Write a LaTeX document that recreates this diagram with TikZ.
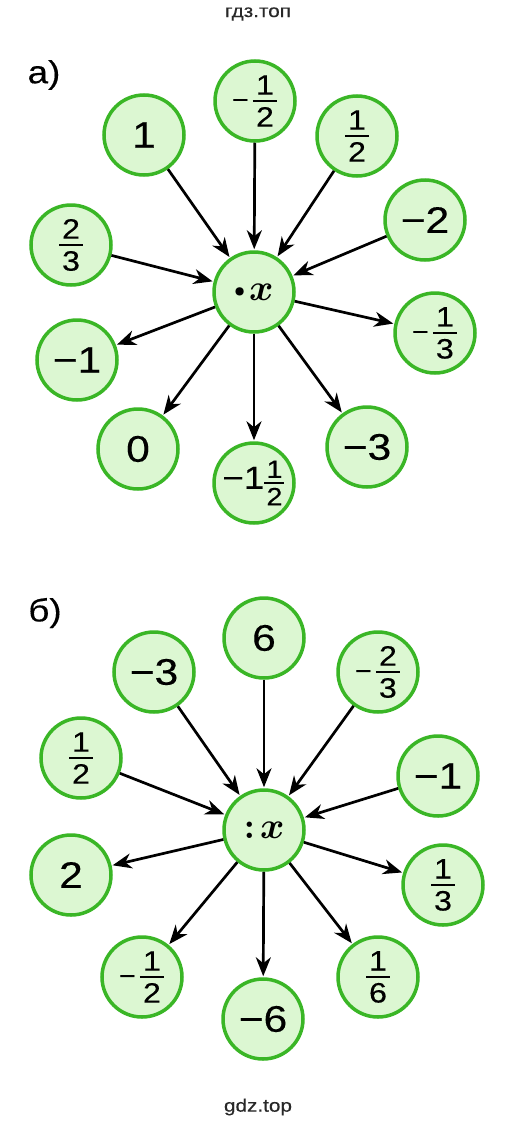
\documentclass[tikz,border=0pt]{standalone}
\usepackage{fix-cm}
\usepackage{amsmath}
\usepackage{fontspec}
\setmainfont{Liberation Sans}[FakeStretch=1.15,FakeBold=0.3]
\usetikzlibrary{arrows.meta}

\definecolor{ringgreen}{RGB}{58,182,38}
\definecolor{fillgreen}{RGB}{220,247,210}
\definecolor{markgray}{RGB}{40,40,40}

\newcommand{\smallfig}{\fontsize{28}{29}\selectfont}
\newcommand{\fr}[2]{$\genfrac{}{}{2pt}{}%
    {\mbox{\smallfig\kern3pt#1\kern3pt\rule[-3pt]{0pt}{3pt}}}%
    {\mbox{\smallfig\kern3pt#2\kern3pt\rule{0pt}{23pt}}}$}
\newcommand{\fminus}{\raisebox{1.5pt}{\fontsize{25}{26}\selectfont −}\kern3pt}
\newcommand{\opdot}{\raisebox{4pt}{$\scriptscriptstyle\bullet$}}

\tikzset{
    num/.style={circle,draw=ringgreen,fill=fillgreen,line width=3.5pt,
                minimum size=80pt,inner sep=0pt,font=\fontsize{37}{40}\selectfont},
    op/.style={num,font=\fontsize{37}{40}\selectfont\boldmath},
    arr/.style={-{Stealth[length=19pt,width=15pt,inset=6pt]},line width=2.7pt,shorten >=1pt},
    partlabel/.style={font=\fontsize{32}{36}\selectfont},
    sitemark/.style={font=\fontsize{18}{21}\selectfont,text=markgray}
}

\begin{document}
\begin{tikzpicture}[x=1pt,y=-1pt]
    \fill[white] (0,0) rectangle (519,1127);
    \useasboundingbox (0,0) rectangle (519,1127);

    \node[sitemark] (top) at (258,14) {гдз.топ};
    \node[sitemark] (bottom) at (258,1107) {gdz.top};

    % a)
    \node[partlabel] (la) at (44,75) {а)};
    \node[op] (aC) at (254,292) {\opdot\kern4pt$x$};
    \foreach \n/\x/\y/\t in {a1/144/135/{1}, a2/255/101/{\fminus\fr12}, a3/357/136/{\fr12},
                              a4/425/220/{−2}, a5/71/245/{\fr23}, a6/435/333/{\fminus\fr13},
                              a7/77/360/{−1}, a8/138/449/{0}, a10/367/447/{−3}}{
            \node[num] (\n) at (\x,\y) {\t};
        }
    \node[num,font=\fontsize{32}{34}\selectfont] (a9) at (254,483)
        {−1\kern-1pt{\fontsize{25}{26}\selectfont$\genfrac{}{}{1.8pt}{}{\mbox{\kern2pt1\kern2pt\rule[-2pt]{0pt}{2pt}}}{\mbox{\kern2pt2\kern2pt\rule{0pt}{20pt}}}$}};
    \foreach \n in {a1,a2,a3,a4,a5}{
            \draw[arr] (\n) -- (aC);
        }
    \foreach \n in {a6,a7,a8,a9,a10}{
            \draw[arr] (aC) -- (\n);
        }

    % b)
    \node[partlabel] (lb) at (45,613) {б)};
    \node[op] (bC) at (264,830) {${:}$\kern5pt$x$};
    \foreach \n/\x/\y/\t in {b1/264/638/{6}, b2/154/672/{−3}, b3/378/672/{\fminus\fr23},
                              b4/81/758/{\fr12}, b5/438/776/{−1}, b6/71/875/{2},
                              b7/443/885/{\fr13}, b8/142/977/{\fminus\fr12},
                              b9/263/1019/{−6}, b10/378/977/{\fr16}}{
            \node[num] (\n) at (\x,\y) {\t};
        }
    \foreach \n in {b1,b2,b3,b4,b5}{
            \draw[arr] (\n) -- (bC);
        }
    \foreach \n in {b6,b7,b8,b9,b10}{
            \draw[arr] (bC) -- (\n);
        }
\end{tikzpicture}
\end{document}
